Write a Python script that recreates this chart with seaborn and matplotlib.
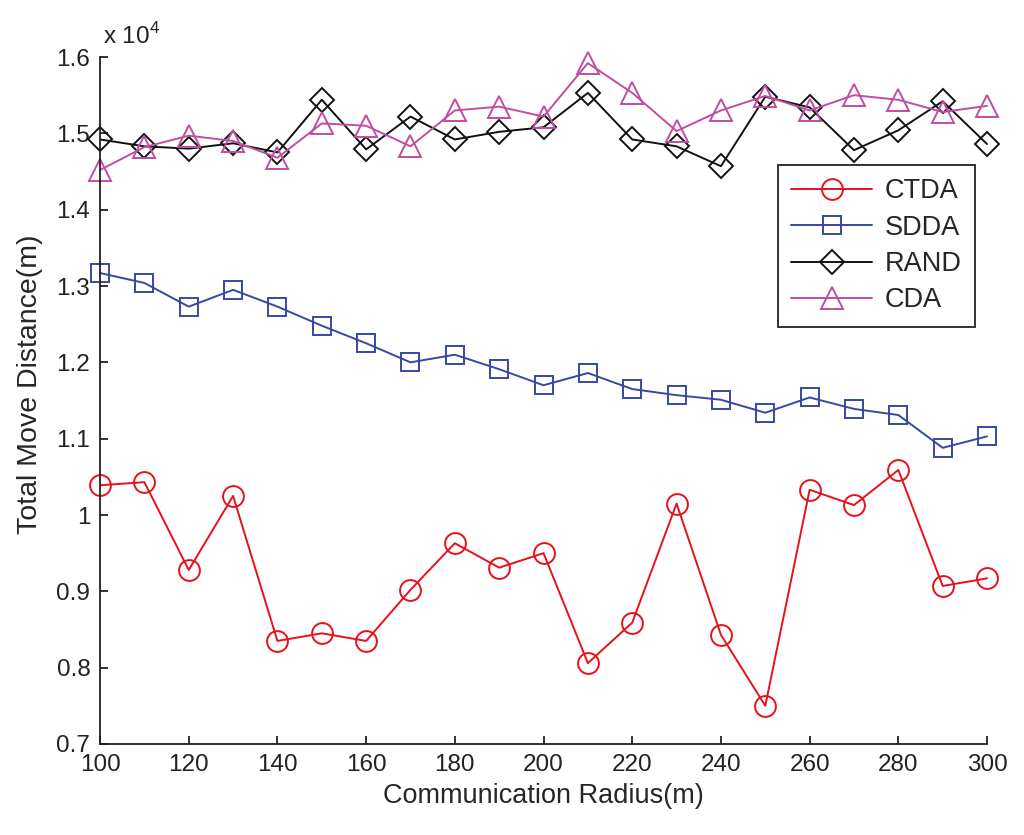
import numpy as np
import pandas as pd
import seaborn as sns
import matplotlib
matplotlib.use("Agg")
import matplotlib.pyplot as plt
import matplotlib.ticker as ticker

# 通信半径 (m)
radius = [100, 110, 120, 130, 140, 150, 160, 170, 180, 190, 200,
          210, 220, 230, 240, 250, 260, 270, 280, 290, 300]

# 総移動距離 (m)
ctda = [10390, 10430, 9280, 10250, 8350, 8450, 8350, 9020, 9630, 9310, 9500,
        8060, 8590, 10150, 8430, 7500, 10330, 10130, 10590, 9070, 9170]
sdda = [13170, 13040, 12730, 12950, 12730, 12480, 12250, 12000, 12100, 11910, 11700,
        11860, 11650, 11570, 11510, 11340, 11540, 11390, 11310, 10880, 11030]
rand = [14920, 14830, 14800, 14870, 14750, 15440, 14790, 15220, 14920, 15020, 15080,
        15530, 14920, 14830, 14570, 15480, 15340, 14780, 15040, 15420, 14860]
cda = [14520, 14820, 14970, 14900, 14680, 15130, 15100, 14830, 15300, 15350, 15220,
       15920, 15530, 15030, 15300, 15490, 15300, 15500, 15440, 15280, 15360]

series = {"CTDA": ctda, "SDDA": sdda, "RAND": rand, "CDA": cda}
colors = {"CTDA": "#e8101a", "SDDA": "#3548a3", "RAND": "#111111", "CDA": "#c04ea0"}
markers = {"CTDA": "o", "SDDA": "s", "RAND": "D", "CDA": "^"}
msizes = {"CTDA": 15, "SDDA": 13.5, "RAND": 12, "CDA": 16}

sns.set_theme(style="ticks")
plt.rcParams["font.family"] = ["Liberation Sans", "DejaVu Sans"]
plt.rcParams["mathtext.fontset"] = "custom"
plt.rcParams["mathtext.rm"] = "Liberation Sans"

fig = plt.figure(figsize=(10.24, 8.35), dpi=100)
ax = fig.add_axes([0.0977, 0.109, 0.8662, 0.8227])

for name, vals in series.items():
    df = pd.DataFrame({"radius": radius, "dist": vals})
    sns.lineplot(data=df, x="radius", y="dist", ax=ax, color=colors[name],
                 marker=markers[name], markersize=msizes[name],
                 markerfacecolor="none", markeredgecolor=colors[name],
                 markeredgewidth=1.4, linewidth=1.4, label=name, clip_on=False)

ax.set_xlim(100, 300)
ax.set_ylim(7000, 16000)
ax.set_xticks(np.arange(100, 301, 20))
ax.set_yticks(np.arange(7000, 16001, 1000))
ax.yaxis.set_major_formatter(ticker.FuncFormatter(lambda v, p: "%g" % round(v / 1e4, 2)))

ax.tick_params(direction="in", length=6, width=1.3, labelsize=17.5, colors="#222222", pad=7)
for s in ["top", "right"]:
    ax.spines[s].set_visible(False)
for s in ["left", "bottom"]:
    ax.spines[s].set_linewidth(1.3)
    ax.spines[s].set_color("#222222")

ax.set_xlabel("Communication Radius(m)", fontsize=19.5, labelpad=5)
ax.set_ylabel("Total Move Distance(m)", fontsize=20.5)
ax.yaxis.set_label_coords(-0.064, 0.524)

ax.text(0.003, 1.012, "x 10$^4$", transform=ax.transAxes, fontsize=17.5,
        ha="left", va="bottom", color="#222222")

leg = ax.legend(loc="upper right", bbox_to_anchor=(0.9865, 0.843), borderaxespad=0,
                fontsize=19.5, handlelength=3.0, fancybox=False, framealpha=1,
                edgecolor="#222222", borderpad=0.5, labelspacing=0.38, handletextpad=0.45)
leg.get_frame().set_linewidth(1.3)

fig.savefig("out.png", dpi=100)
